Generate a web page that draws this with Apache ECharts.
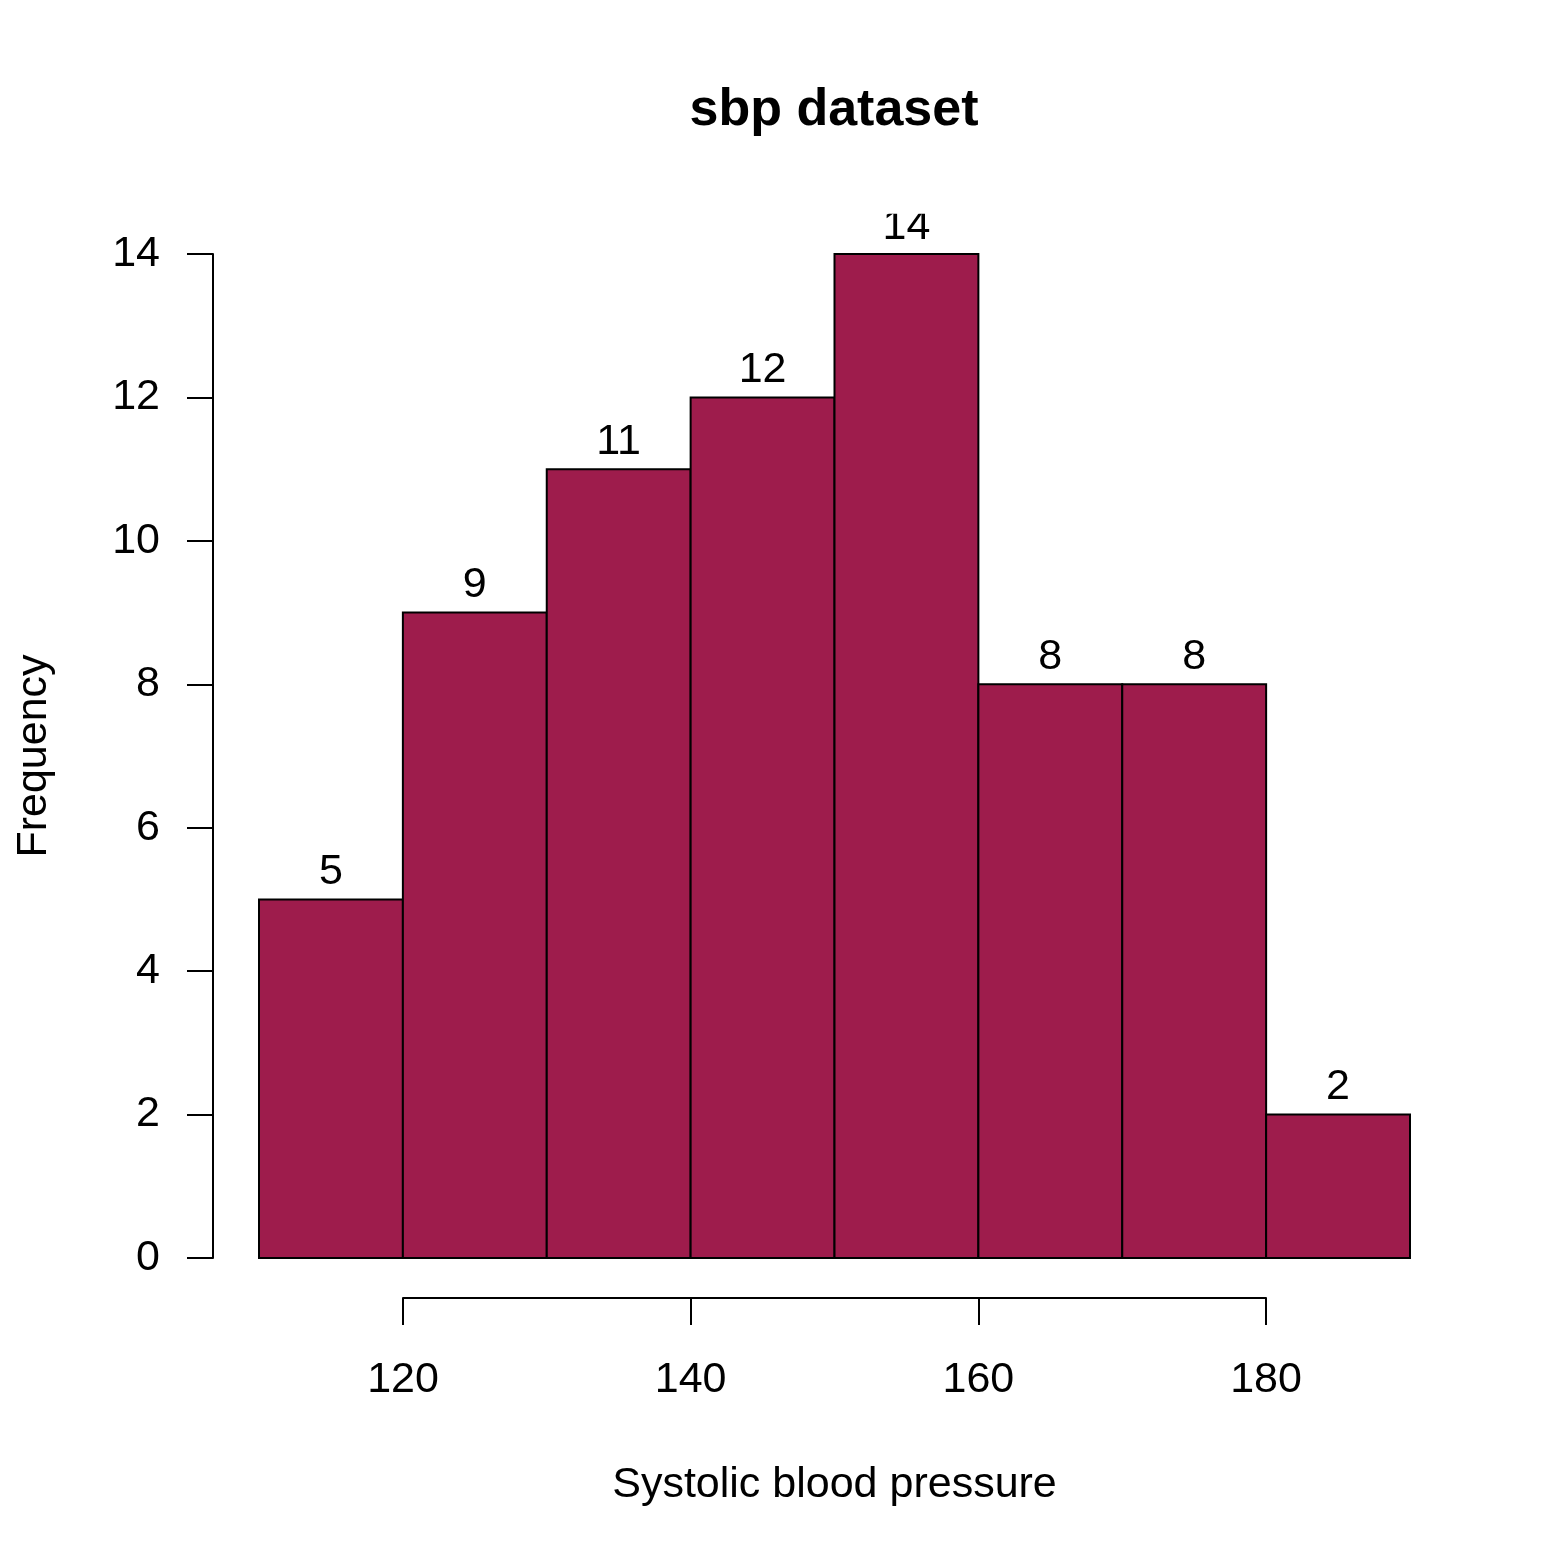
<!DOCTYPE html>
<html>
<head>
<meta charset="utf-8">
<script src="https://cdn.jsdelivr.net/npm/echarts@6/dist/echarts.min.js"></script>
<style>
html,body{margin:0;padding:0;background:#fff;}
#chart{width:1565px;height:1565px;}
</style>
</head>
<body>
<div id="chart"></div>
<script>
// Histogram data (bin edges and counts)
const binStarts = [110, 120, 130, 140, 150, 160, 170, 180];
const binWidth = 10;
const counts = [5, 9, 11, 12, 14, 8, 8, 2];
const yTicks = [0, 2, 4, 6, 8, 10, 12, 14];
const xTicks = [120, 140, 160, 180];
const titleText = 'sbp dataset';
const xLabel = 'Systolic blood pressure';
const yLabel = 'Frequency';

const FONT = '"Liberation Sans", Arial, Helvetica, sans-serif';
const fill = '#9E1C4C';

const data = binStarts.map((s, i) => [s, s + binWidth, counts[i]]);
const yMax = Math.max(...counts);

const chart = echarts.init(document.getElementById('chart'), null, {renderer: 'canvas'});

const option = {
  backgroundColor: '#ffffff',
  animation: false,
  graphic: [{
    type: 'text',
    x: 834, y: 111,
    style: {
      text: titleText,
      textAlign: 'center',
      textVerticalAlign: 'middle',
      fontFamily: FONT,
      fontSize: 52,
      fontWeight: 'bold',
      fill: '#000'
    }
  }],
  grid: [
    {left: 259, right: 155, top: 254, bottom: 307, outerBoundsMode: 'none', containLabel: false},
    {left: 403, right: 299, top: 1297, height: 1, outerBoundsMode: 'none', containLabel: false}
  ],
  xAxis: [
    {gridIndex: 0, type: 'value', min: binStarts[0], max: binStarts[binStarts.length - 1] + binWidth, show: false},
    {
      gridIndex: 1, type: 'value', position: 'bottom',
      min: xTicks[0], max: xTicks[xTicks.length - 1], interval: 20,
      axisLine: {show: true, lineStyle: {color: '#000', width: 2}},
      axisTick: {show: true, length: 27, lineStyle: {color: '#000', width: 2}},
      axisLabel: {show: true, fontFamily: FONT, fontSize: 43, color: '#000', margin: 61},
      splitLine: {show: false},
      name: xLabel, nameLocation: 'middle', nameGap: 166,
      nameTextStyle: {fontFamily: FONT, fontSize: 43, color: '#000'}
    }
  ],
  yAxis: [
    {
      gridIndex: 0, type: 'value', position: 'left', offset: 46,
      min: yTicks[0], max: yTicks[yTicks.length - 1], interval: 2,
      axisLine: {show: true, lineStyle: {color: '#000', width: 2}},
      axisTick: {show: true, length: 26, lineStyle: {color: '#000', width: 2}},
      axisLabel: {show: true, fontFamily: FONT, fontSize: 43, color: '#000', margin: 53},
      splitLine: {show: false},
      name: yLabel, nameLocation: 'middle', nameGap: 157,
      nameTextStyle: {fontFamily: FONT, fontSize: 43, color: '#000'}
    },
    {gridIndex: 1, type: 'value', show: false, min: 0, max: 1}
  ],
  series: [{
    type: 'custom',
    xAxisIndex: 0, yAxisIndex: 0,
    clip: false,
    data: data,
    renderItem: function (params, api) {
      const x0 = api.value(0), x1 = api.value(1), c = api.value(2);
      const p0 = api.coord([x0, 0]);
      const p1 = api.coord([x1, c]);
      const top = api.coord([x0, yMax * 1.04]);
      return {
        type: 'group',
        children: [
          {
            type: 'rect',
            shape: {x: p0[0], y: p1[1], width: p1[0] - p0[0], height: p0[1] - p1[1]},
            style: {fill: fill, stroke: '#000', lineWidth: 2}
          },
          {
            type: 'group',
            clipPath: {
              type: 'rect',
              shape: {x: p0[0] - 100, y: top[1], width: p1[0] - p0[0] + 200, height: p0[1] - top[1]}
            },
            children: [{
              type: 'text',
              style: {
                x: (p0[0] + p1[0]) / 2,
                y: p1[1] - 27,
                text: String(c),
                textAlign: 'center',
                textVerticalAlign: 'middle',
                fontFamily: FONT,
                fontSize: 43,
                fill: '#000'
              }
            }]
          }
        ]
      };
    }
  }]
};
chart.setOption(option);
</script>
</body>
</html>
